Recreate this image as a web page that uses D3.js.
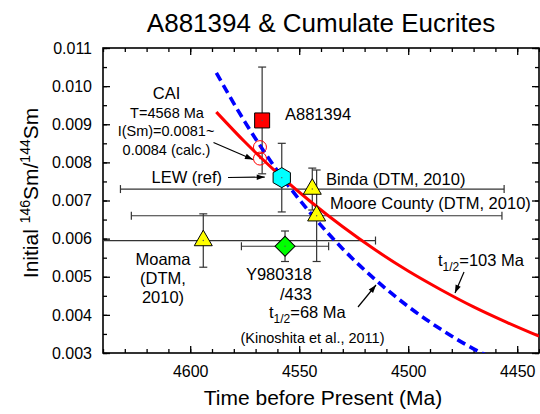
<!DOCTYPE html>
<html>
<script src="https://d3js.org/d3.v7.min.js"></script>
<style>
    body { margin: 0; background: white; }
    svg text { font-family: "Liberation Sans", Arial, sans-serif; fill: black; }
</style>
<body>
<svg width="540" height="414"></svg>
<script>
    // samples (age in Ma before present, initial 146Sm/144Sm)
    const sampleNames = ["A881394", "LEW (ref)", "Binda", "Moore County", "Moama", "Y980318/433"];
    const sampleAge = [4567, 4558, 4544, 4542, 4594, 4556.5];
    const sampleAgeErr = [0, 0, 88, 85, 79, 20];
    const sampleRatio = [0.0091, 0.0076, 0.0073, 0.0066, 0.00595, 0.0058];
    const sampleRatioErr = [0.0014, 0.0009, 0.00055, 0.0012, 0.0007, 0.0004];

    // CAI calculated range
    const caiAge = [4568, 4568];
    const caiRatio = [0.0084, 0.0081];

    // decay curves
    const curveAge = [4588, 4575, 4560, 4545, 4530, 4515, 4500, 4485, 4470, 4455, 4440];
    const red103 = [0.00932, 0.00854, 0.00772, 0.00698, 0.00631, 0.00570, 0.00515, 0.00466, 0.00421, 0.00381, 0.00344];
    const blueAge = [4588, 4575, 4560, 4545, 4530, 4515, 4500, 4485, 4470, 4462];
    const blue68 = [0.01035, 0.00907, 0.00778, 0.00668, 0.00573, 0.00492, 0.00422, 0.00362, 0.00311, 0.00288];

    const xMajor = [4600, 4550, 4500, 4450];
    const yMajor = [0.003, 0.004, 0.005, 0.006, 0.007, 0.008, 0.009, 0.010, 0.011];

    const svg = d3.select('svg');
    const L = 103, R = 539, T = 48, B = 353;

    const x = d3.scaleLinear().domain([4640, 4440]).range([L, R]);
    const y = d3.scaleLinear().domain([0.003, 0.011]).range([B, T]);

    const xMinor = d3.range(4640, 4439, -10);
    const yMinor = d3.range(0, 17).map(i => 0.003 + i * 0.0005);

    // title
    svg.append('text').attr('x', 321).attr('y', 32).attr('text-anchor', 'middle')
        .style('font-size', '26px').text('A881394 & Cumulate Eucrites');

    // axes, ticks pointing inward on all four sides
    function noDomain(g) { g.select('.domain').remove(); }
    const ax = svg.append('g').attr('stroke-width', 1.2);
    ax.append('g').attr('transform', `translate(0,${B})`)
        .call(d3.axisBottom(x).tickValues(xMinor).tickSize(-4).tickSizeOuter(0).tickFormat(''))
        .call(noDomain);
    ax.append('g').attr('transform', `translate(0,${B})`)
        .call(d3.axisBottom(x).tickValues(xMajor).tickSize(-7).tickSizeOuter(0).tickPadding(12.5).tickFormat(d3.format('d')))
        .call(noDomain);
    ax.append('g').attr('transform', `translate(0,${T})`)
        .call(d3.axisTop(x).tickValues(xMinor).tickSize(-4).tickSizeOuter(0).tickFormat(''))
        .call(noDomain);
    ax.append('g').attr('transform', `translate(0,${T})`)
        .call(d3.axisTop(x).tickValues(xMajor).tickSize(-7).tickSizeOuter(0).tickFormat(''))
        .call(noDomain);
    ax.append('g').attr('transform', `translate(${L},0)`)
        .call(d3.axisLeft(y).tickValues(yMinor).tickSize(-4).tickSizeOuter(0).tickFormat(''))
        .call(noDomain);
    ax.append('g').attr('transform', `translate(${L},0)`)
        .call(d3.axisLeft(y).tickValues(yMajor).tickSize(-7).tickSizeOuter(0).tickPadding(11).tickFormat(d3.format('.3f')))
        .call(noDomain);
    ax.append('g').attr('transform', `translate(${R},0)`)
        .call(d3.axisRight(y).tickValues(yMinor).tickSize(-4).tickSizeOuter(0).tickFormat(''))
        .call(noDomain);
    ax.append('g').attr('transform', `translate(${R},0)`)
        .call(d3.axisRight(y).tickValues(yMajor).tickSize(-7).tickSizeOuter(0).tickFormat(''))
        .call(noDomain);
    ax.selectAll('.tick line').attr('stroke', 'black').attr('stroke-width', 1.3);
    ax.selectAll('.tick text').style('font-size', '16px').attr('fill', 'black');

    svg.append('rect').attr('x', L).attr('y', T).attr('width', R - L).attr('height', B - T)
        .attr('fill', 'none').attr('stroke', 'black').attr('stroke-width', 1.6);

    // axis titles
    svg.append('text').attr('x', 323).attr('y', 405).attr('text-anchor', 'middle')
        .style('font-size', '21px').text('Time before Present (Ma)');
    const yl = svg.append('text').attr('transform', 'translate(38,193) rotate(-90)')
        .attr('text-anchor', 'middle').style('font-size', '21px');
    yl.append('tspan').text('Initial ');
    yl.append('tspan').attr('dy', -8).style('font-size', '14px').text('146');
    yl.append('tspan').attr('dy', 8).text('Sm/');
    yl.append('tspan').attr('dy', -8).style('font-size', '14px').text('144');
    yl.append('tspan').attr('dy', 8).text('Sm');

    // clip to plot area
    svg.append('clipPath').attr('id', 'plot').append('rect')
        .attr('x', L).attr('y', T).attr('width', R - L).attr('height', B - T);
    const plot = svg.append('g').attr('clip-path', 'url(#plot)');

    const samples = sampleNames.map((n, i) => ({
        name: n, age: sampleAge[i], ageErr: sampleAgeErr[i], r: sampleRatio[i], rErr: sampleRatioErr[i]
    }));

    // error bars
    const eb = plot.append('g').attr('stroke', '#333').attr('stroke-width', 1.2);
    samples.forEach(d => {
        if (d.rErr > 0) {
            eb.append('line').attr('x1', x(d.age)).attr('x2', x(d.age))
                .attr('y1', y(d.r + d.rErr)).attr('y2', y(d.r - d.rErr));
            [d.r + d.rErr, d.r - d.rErr].forEach(v => {
                eb.append('line').attr('x1', x(d.age) - 4).attr('x2', x(d.age) + 4)
                    .attr('y1', y(v)).attr('y2', y(v));
            });
        }
        if (d.ageErr > 0) {
            eb.append('line').attr('y1', y(d.r)).attr('y2', y(d.r))
                .attr('x1', x(d.age + d.ageErr)).attr('x2', x(d.age - d.ageErr));
            [d.age + d.ageErr, d.age - d.ageErr].forEach(v => {
                eb.append('line').attr('y1', y(d.r) - 4).attr('y2', y(d.r) + 4)
                    .attr('x1', x(v)).attr('x2', x(v));
            });
        }
    });

    // decay curves
    const line = d3.line().x(d => x(d[0])).y(d => y(d[1])).curve(d3.curveMonotoneX);
    plot.append('path').datum(blueAge.map((a, i) => [a, blue68[i]]))
        .attr('d', line).attr('fill', 'none').attr('stroke', '#0000ff')
        .attr('stroke-width', 3.6).attr('stroke-dasharray', '9,5');
    plot.append('path').datum(curveAge.map((a, i) => [a, red103[i]]))
        .attr('d', line).attr('fill', 'none').attr('stroke', '#ff0000')
        .attr('stroke-width', 3);

    // CAI open circles
    caiAge.forEach((a, i) => {
        plot.append('circle').attr('cx', x(a)).attr('cy', y(caiRatio[i])).attr('r', 6.5)
            .attr('fill', 'none').attr('stroke', '#ff0000').attr('stroke-width', 1);
        plot.append('circle').attr('cx', x(a)).attr('cy', y(caiRatio[i])).attr('r', 0.7)
            .attr('fill', '#ff0000');
    });

    // sample markers
    const hexagon = d3.range(6).map(k => {
        const t = Math.PI / 3 * k - Math.PI / 2;
        return [10 * Math.cos(t), 10 * Math.sin(t)];
    });
    function markerStyle(name) {
        if (name === 'A881394') return { fill: '#ff0000', path: d3.symbol(d3.symbolSquare, 225)() };
        if (name === 'LEW (ref)') return { fill: '#00ffff', path: 'M' + hexagon.join('L') + 'Z' };
        if (name === 'Y980318/433') return { fill: '#00ff00', path: d3.symbol(d3.symbolSquare, 200)(), rot: 45 };
        return { fill: '#ffff00', path: d3.symbol(d3.symbolTriangle, 140)() };
    }
    samples.forEach(d => {
        const s = markerStyle(d.name);
        plot.append('path').attr('d', s.path)
            .attr('transform', `translate(${x(d.age)},${y(d.r)}) rotate(${s.rot || 0})`)
            .attr('fill', s.fill).attr('stroke', 'black').attr('stroke-width', 1);
        plot.append('circle').attr('cx', x(d.age)).attr('cy', y(d.r)).attr('r', 0.7).attr('fill', '#555');
    });

    // annotations
    function label(px, py, txt, size, anchor) {
        return svg.append('text').attr('x', px).attr('y', py).attr('text-anchor', anchor || 'start')
            .style('font-size', size + 'px').text(txt);
    }
    label(166.5, 99, 'CAI', 16.5, 'middle');
    label(167, 117.5, 'T=4568 Ma', 14.5, 'middle');
    label(166, 136, 'I(Sm)=0.0081~', 14.5, 'middle');
    label(166.5, 155, '0.0084 (calc.)', 14.5, 'middle');
    label(285, 120, 'A881394', 16.5);
    label(151.5, 183, 'LEW (ref)', 16.5);
    label(326, 185, 'Binda (DTM, 2010)', 16.5);
    label(330, 209, 'Moore County (DTM, 2010)', 16.5);
    label(163, 265, 'Moama', 16.5, 'middle');
    label(163, 284, '(DTM,', 16.5, 'middle');
    label(163, 303, '2010)', 16.5, 'middle');
    label(312, 280, 'Y980318', 16.5, 'end');
    label(312, 299.5, '/433', 16.5, 'end');
    label(312.5, 343, '(Kinoshita et al., 2011)', 14.5, 'middle');

    function halfLife(px, py, val) {
        const t = svg.append('text').attr('x', px).attr('y', py).style('font-size', '16.5px');
        t.append('tspan').text('t');
        t.append('tspan').attr('dy', 5).style('font-size', '12px').text('1/2');
        t.append('tspan').attr('dy', -5).text('=' + val + ' Ma');
    }
    halfLife(269, 318, 68);
    halfLife(438, 266, 103);

    // arrows
    svg.append('defs').append('marker').attr('id', 'arr')
        .attr('viewBox', '0 0 10 10').attr('refX', 10).attr('refY', 5)
        .attr('markerWidth', 10).attr('markerHeight', 8).attr('markerUnits', 'userSpaceOnUse')
        .attr('orient', 'auto')
        .append('path').attr('d', 'M0,1.5L10,5L0,8.5Z').attr('fill', 'black');
    function arrow(x1, y1, x2, y2) {
        svg.append('line').attr('x1', x1).attr('y1', y1).attr('x2', x2).attr('y2', y2)
            .attr('stroke', 'black').attr('stroke-width', 1.2).attr('marker-end', 'url(#arr)');
    }
    arrow(213.5, 142.5, x(caiAge[1]) - 7, y(caiRatio[1]) + 1);
    arrow(228, 177.5, x(sampleAge[1]) - 17, y(sampleRatio[1]) - 0.5);
    arrow(358, 307, 376, 285);
    arrow(464, 272, 455, 293);
</script>
</body>
</html>
